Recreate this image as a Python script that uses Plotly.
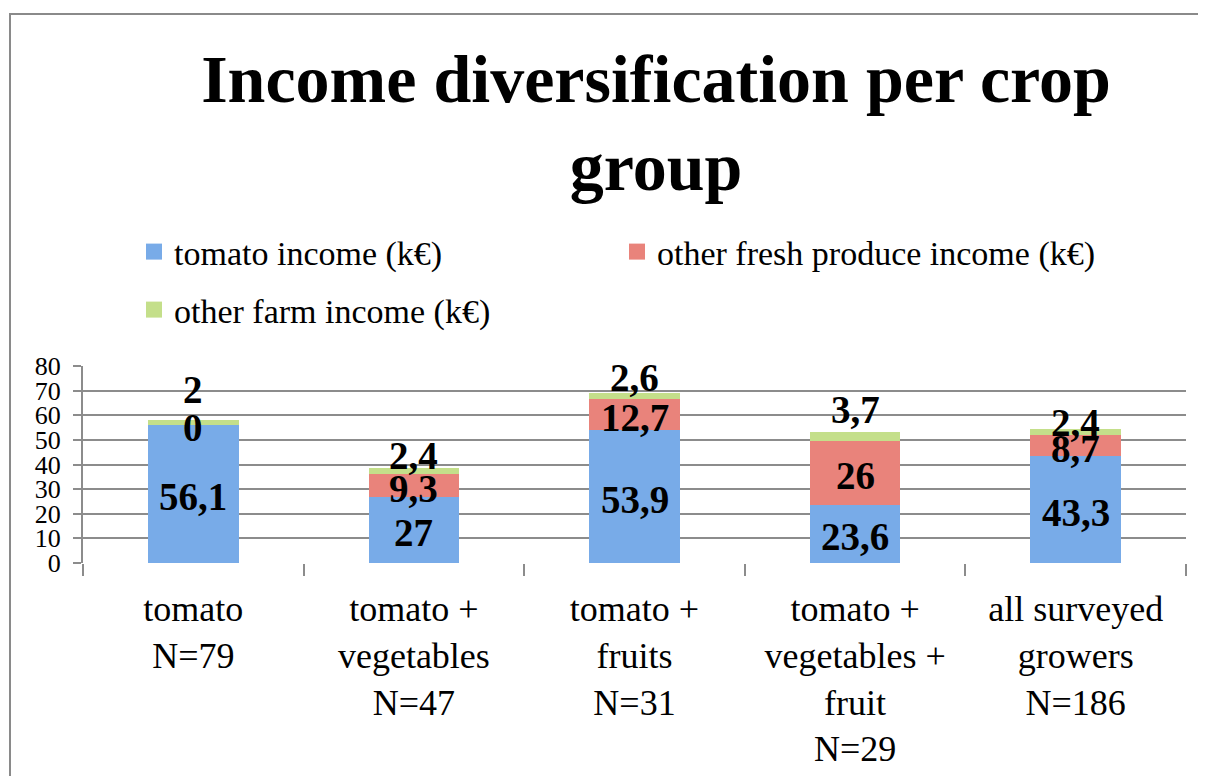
import plotly.graph_objects as go

categories = ["tomato<br>N=79", "tomato +<br>vegetables<br>N=47", "tomato +<br>fruits<br>N=31",
              "tomato +<br>vegetables +<br>fruit<br>N=29", "all surveyed<br>growers<br>N=186"]
tomato_income = [56.1, 27, 53.9, 23.6, 43.3]
fresh_income = [0, 9.3, 12.7, 26, 8.7]
farm_income = [2, 2.4, 2.6, 3.7, 2.4]
tomato_labels = ["56,1", "27", "53,9", "23,6", "43,3"]
fresh_labels = ["0", "9,3", "12,7", "26", "8,7"]
farm_labels = ["2", "2,4", "2,6", "3,7", "2,4"]
y_ticks = [0, 10, 20, 30, 40, 50, 60, 70, 80]

SERIF = "Liberation Serif"
BLUE = "#78abe8"
RED = "#e9837b"
GREEN = "#c4df8a"
GRID = "#8c8c8c"

# style: pixel offsets of the value labels (moved by hand in the original)
farm_label_shift = [30, 12, 15, 22, 7]

fig = go.Figure()
series = [("tomato income (k€)", tomato_income, BLUE),
          ("other fresh produce income (k€)", fresh_income, RED),
          ("other farm income (k€)", farm_income, GREEN)]
for name, vals, col in series:
    fig.add_trace(go.Bar(x=categories, y=vals, name=name, marker=dict(color=col, line=dict(width=0)),
                         showlegend=False, hoverinfo="y"))

# legend entries
legend_ids = ["legend", "legend", "legend2"]
for (name, vals, col), lg in zip(series, legend_ids):
    fig.add_trace(go.Scatter(x=[None], y=[None], mode="markers", name=name, legend=lg,
                             marker=dict(symbol="square", size=16, color=col)))

lab_font = dict(family=SERIF, size=39, color="black", weight="bold")
for i, c in enumerate(categories):
    t, f, g = tomato_income[i], fresh_income[i], farm_income[i]
    fig.add_annotation(x=c, y=t / 2, text=tomato_labels[i], showarrow=False, font=lab_font,
                       yanchor="middle", yshift=-3)
    fig.add_annotation(x=c, y=t + f / 2, text=fresh_labels[i], showarrow=False, font=lab_font,
                       yanchor="middle", yshift=-3)
    fig.add_annotation(x=c, y=t + f + g, text=farm_labels[i], showarrow=False, font=lab_font,
                       yanchor="middle", yshift=farm_label_shift[i])

OFF = 8  # page body margin
W, H = 1206, 776
L = 83 - OFF
T = 366 - OFF
R = W - (1186 - OFF)
B = H - (563 - OFF)
pw, ph = W - L - R, H - T - B


def px_x(px):
    return (px - OFF - L) / pw


def px_y(py):
    return (H - B - (py - OFF)) / ph


fig.add_shape(type="rect", xref="paper", yref="paper",
              x0=px_x(10), x1=px_x(1240), y0=px_y(820), y1=px_y(14),
              line=dict(color="#8a8a8a", width=2), fillcolor="rgba(0,0,0,0)", layer="below")

fig.update_layout(
    width=W, height=H,
    margin=dict(l=L, r=R, t=T, b=B, autoexpand=False),
    paper_bgcolor="white", plot_bgcolor="white",
    barmode="stack", bargap=0.59,
    font=dict(family=SERIF, color="black"),
    title=dict(text="Income diversification per crop<br>group", x=(656 - OFF) / W, xanchor="center",
               xref="container", yref="container", y=1 - (118 - 16 - OFF) / H, yanchor="middle",
               font=dict(family=SERIF, size=68, weight="bold", color="black")),
    legend=dict(orientation="h", x=px_x(134), y=px_y(252), xanchor="left", yanchor="middle",
                traceorder="normal",
                entrywidth=438, entrywidthmode="pixels", font=dict(family=SERIF, size=34, color="black"),
                bgcolor="rgba(0,0,0,0)"),
    legend2=dict(orientation="h", x=px_x(134), y=px_y(310), xanchor="left", yanchor="middle",
                 font=dict(family=SERIF, size=34, color="black"), bgcolor="rgba(0,0,0,0)"),
    xaxis=dict(type="category", tickson="boundaries", ticks="outside", ticklen=12, tickcolor=GRID,
               tickwidth=2, showline=False, showgrid=False, ticklabelstandoff=21,
               tickfont=dict(family=SERIF, size=36, color="black")),
    yaxis=dict(range=[0, 80], tickvals=y_ticks, ticks="outside", ticklen=8, tickcolor=GRID, tickwidth=2,
               showline=True, linecolor=GRID, linewidth=2, showgrid=True, gridcolor=GRID, gridwidth=2,
               zeroline=False, ticklabelstandoff=7, tickfont=dict(family=SERIF, size=26, color="black")),
)

fig.write_html("out.html")
